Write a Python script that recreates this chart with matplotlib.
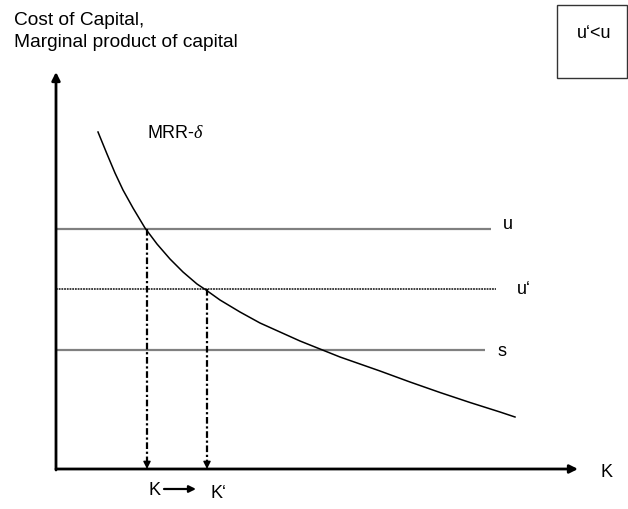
import matplotlib
matplotlib.use("Agg")
import matplotlib.pyplot as plt
from matplotlib.patches import Rectangle

plt.rcParams['font.family'] = ['Liberation Sans', 'DejaVu Sans']
plt.rcParams['mathtext.fontset'] = 'custom'
plt.rcParams['mathtext.it'] = 'Liberation Serif:italic'
plt.rcParams['mathtext.rm'] = 'Liberation Sans'

# ---- data ----
curve_k = [0.42, 0.51, 0.59, 0.67, 0.77, 0.89, 1.01, 1.14, 1.27, 1.41, 1.50,
           1.64, 1.84, 2.04, 2.24, 2.44, 2.64, 2.84, 3.04, 3.24, 3.54, 3.84,
           4.14, 4.44, 4.59]
curve_r = [3.37, 3.15, 2.96, 2.79, 2.61, 2.41, 2.25, 2.10, 1.97, 1.85, 1.79,
           1.69, 1.57, 1.46, 1.37, 1.28, 1.20, 1.12, 1.05, 0.98, 0.87, 0.765,
           0.665, 0.57, 0.52]
rate_names = ['u', 'u‘', 's']
rate_values = [2.40, 1.80, 1.19]
capital_names = ['K', 'K‘']
capital_values = [0.91, 1.51]

fig = plt.figure(figsize=(6.28, 5.09), dpi=100)
ax = fig.add_axes([0, 0, 1, 1])
ax.set_xlim(-0.56, 5.72)
ax.set_ylim(-0.40, 4.69)
ax.axis('off')

# axes with arrows
ax.annotate('', xy=(5.22, 0), xytext=(0, 0),
            arrowprops=dict(arrowstyle='-|>', lw=2, color='k', mutation_scale=12,
                            shrinkA=0, shrinkB=0))
ax.annotate('', xy=(0, 3.97), xytext=(0, -0.01),
            arrowprops=dict(arrowstyle='-|>', lw=2, color='k', mutation_scale=12,
                            shrinkA=0, shrinkB=0))

# horizontal rate lines
line_ends = [4.35, 4.40, 4.29]
label_pos = [(4.47, 2.40), (4.61, 1.75), (4.41, 1.13)]
styles = [dict(color='#808080', lw=1.6, ls='-'),
          dict(color='#303030', lw=1.3, ls=(0, (1, 0.5))),
          dict(color='#808080', lw=1.6, ls='-')]
for name, val, xe, (lx, ly), st in zip(rate_names, rate_values, line_ends, label_pos, styles):
    ax.plot([0, xe], [val, val], **st, solid_capstyle='butt')
    ax.text(lx, ly, name, fontsize=13, va='baseline', ha='left')

# MRR curve
ax.plot(curve_k, curve_r, color='k', lw=1.1, solid_joinstyle='round')
ax.text(0.91, 3.31, 'MRR-$\\delta$', fontsize=13, va='baseline', ha='left')

# vertical dash-dot drops
for kv, rv in zip(capital_values, rate_values[:2]):
    ax.plot([kv, kv], [rv, 0.07], color='k', lw=1.6, ls=(0, (3, 1.2, 1, 1.2)))
    ax.annotate('', xy=(kv, 0.0), xytext=(kv, 0.08),
                arrowprops=dict(arrowstyle='-|>', lw=1, color='k', mutation_scale=11,
                                shrinkA=0, shrinkB=0))

# axis labels
ax.text(-0.42, 4.44, 'Cost of Capital,', fontsize=13.8, va='baseline', ha='left')
ax.text(-0.42, 4.22, 'Marginal product of capital', fontsize=13.8, va='baseline', ha='left')
ax.text(5.44, -0.08, 'K', fontsize=13, va='baseline', ha='left')

# K -> K' below the axis
ax.text(0.92, -0.26, capital_names[0], fontsize=13, va='baseline', ha='left')
ax.text(1.54, -0.29, capital_names[1], fontsize=13, va='baseline', ha='left')
ax.annotate('', xy=(1.40, -0.20), xytext=(1.08, -0.20),
            arrowprops=dict(arrowstyle='-|>', lw=1.6, color='k', mutation_scale=10,
                            shrinkA=0, shrinkB=0))

# box
ax.add_patch(Rectangle((5.01, 3.91), 0.70, 0.73, fill=False, lw=1, edgecolor='#333333'))
ax.text(5.21, 4.31, 'u‘<u', fontsize=13, va='baseline', ha='left')

fig.savefig('out.png', dpi=100)
